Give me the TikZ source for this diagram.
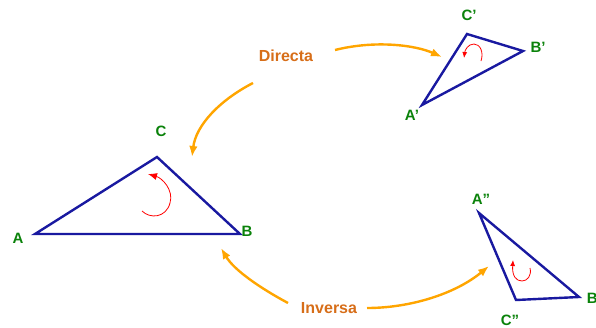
\documentclass[tikz,border=0pt]{standalone}
\usepackage{fontspec}
\setmainfont{Liberation Sans}
\usetikzlibrary{arrows.meta}
\definecolor{triblue}{RGB}{25,25,160}
\definecolor{lblgreen}{RGB}{10,130,10}
\definecolor{txtorange}{RGB}{215,110,25}
\definecolor{arrorange}{RGB}{255,165,0}
\begin{document}
\begin{tikzpicture}[x=1pt,y=-1pt,
  tri/.style={draw=triblue,line width=2.4pt,line join=miter},
  vlabel/.style={text=lblgreen,font=\fontsize{15}{18}\selectfont\bfseries,inner sep=0pt},
  kind/.style={text=txtorange,font=\fontsize{16}{19}\selectfont\bfseries,inner sep=0pt},
  conn/.style={draw=arrorange,line width=2.4pt,-{Latex[length=11pt,width=8.5pt]}},
  turn/.style={draw=red,line width=0.8pt,-{Latex[length=9pt,width=7pt]}},
  smallturn/.style={draw=red,line width=0.8pt,-{Latex[length=6pt,width=5pt]}}]
\useasboundingbox (0,0) rectangle (596,327);
% triangle ABC
\coordinate (A) at (35,234);
\coordinate (B) at (240,234);
\coordinate (C) at (157,157);
\draw[tri] (A) -- (B) -- (C) -- cycle;
\node[vlabel] (lA) at (18,238) {A};
\node[vlabel] (lB) at (247,231) {B};
\node[vlabel] (lC) at (161,131) {C};
% triangle A'B'C'
\coordinate (A1) at (422,105);
\coordinate (B1) at (523,51);
\coordinate (C1) at (467,34);
\draw[tri] (A1) -- (B1) -- (C1) -- cycle;
\node[vlabel] (lA1) at (412,115) {A’};
\node[vlabel] (lB1) at (538,47) {B’};
\node[vlabel] (lC1) at (469,15) {C’};
% triangle A''B''C''
\coordinate (A2) at (479,213);
\coordinate (B2) at (579,297);
\coordinate (C2) at (516,300);
\draw[tri] (A2) -- (B2) -- (C2) -- cycle;
\node[vlabel] (lA2) at (481,199) {A”};
\node[vlabel] (lB2) at (596,298) {B”};
\node[vlabel] (lC2) at (510,320) {C”};
% rotation marks
\coordinate (r0s) at (142,211);
\coordinate (r0m) at (170,203);
\coordinate (r0e) at (148,174);
\draw[turn] (r0s) .. controls (150,219) and (166,218) .. (r0m) .. controls (174,190) and (162,178) .. (r0e);
\coordinate (r1s) at (481,61);
\coordinate (r1m) at (474,44);
\coordinate (r1e) at (464,58);
\draw[smallturn] (r1s) .. controls (484,52) and (480,44) .. (r1m) .. controls (468,44) and (465,50) .. (r1e);
\coordinate (r2s) at (530,268);
\coordinate (r2m) at (522,281);
\coordinate (r2e) at (513,260);
\draw[smallturn] (r2s) .. controls (532,276) and (527,281) .. (r2m) .. controls (516,281) and (512,276) .. (r2e);
% labels of kinds
\node[kind] (dir) at (286,56) {Directa};
\node[kind] (inv) at (329,308) {Inversa};
% connectors
\coordinate (d1s) at (335,50);
\coordinate (d1e) at (442,57);
\coordinate (d2s) at (253,83);
\coordinate (d2e) at (192,157);
\coordinate (i1s) at (288,303);
\coordinate (i1e) at (221,248);
\coordinate (i2s) at (367,308);
\coordinate (i2e) at (489,266);
\draw[conn] (d1s) .. controls (375,40) and (415,45) .. (d1e);
\draw[conn] (d2s) .. controls (220,100) and (196,125) .. (d2e);
\draw[conn] (i1s) .. controls (260,288) and (234,270) .. (i1e);
\draw[conn] (i2s) .. controls (410,308) and (455,294) .. (i2e);
\end{tikzpicture}
\end{document}
